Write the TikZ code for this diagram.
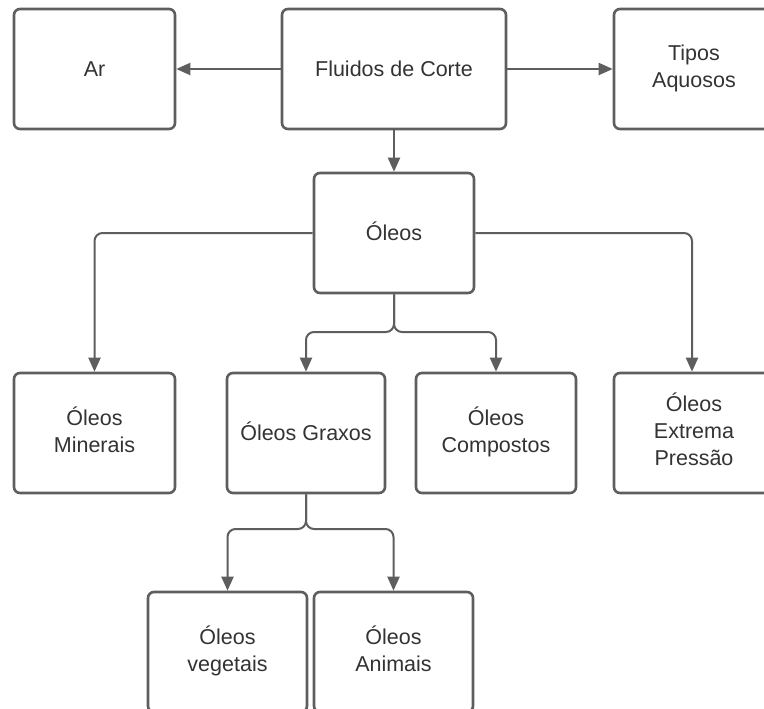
\documentclass[tikz,border=0pt]{standalone}
\usepackage{fontspec}
\setmainfont{Liberation Sans}
\usetikzlibrary{arrows.meta}
\definecolor{boxline}{HTML}{5E5E5E}
\definecolor{txt}{HTML}{333333}
\newcommand\lnstrut{\rule[-6pt]{0pt}{27pt}}
\newcommand\lststrut{\rule[-10pt]{0pt}{10pt}}
\tikzset{
  box/.style={draw=boxline, line width=2.6pt, rounded corners=6pt, fill=white,
    text=txt, align=center, inner sep=0pt,
    font=\fontsize{21.5}{27}\selectfont},
  conn/.style={draw=boxline, line width=2pt, rounded corners=8pt,
    -{Triangle[length=14pt,width=12pt]}},
}
\begin{document}
\begin{tikzpicture}[x=1pt,y=-1pt]
\useasboundingbox (0,0) rectangle (764,709);
\clip (0,0) rectangle (764,709);
\fill[white] (0,0) rectangle (764,709);
\node[box, minimum width=161pt, minimum height=120pt] (ar) at (94.5,69) {\lnstrut Ar};
\node[box, minimum width=224pt, minimum height=120pt] (fluid) at (394,69) {\lnstrut Fluidos de Corte};
\node[box, minimum width=160pt, minimum height=120pt] (tipos) at (694,69) {\lnstrut Tipos\\Aquosos\lststrut};
\node[box, minimum width=160pt, minimum height=120pt] (oleos) at (394,233) {\lnstrut Óleos};
\node[box, minimum width=161pt, minimum height=120pt] (miner) at (94.5,433) {\lnstrut Óleos\\Minerais\lststrut};
\node[box, minimum width=158pt, minimum height=120pt] (graxos) at (306,433) {\lnstrut Óleos Graxos};
\node[box, minimum width=160pt, minimum height=120pt] (comp) at (496,433) {\lnstrut Óleos\\Compostos\lststrut};
\node[box, minimum width=160pt, minimum height=120pt] (extr) at (694,433) {\lnstrut Óleos\\Extrema\\Pressão\lststrut};
\node[box, minimum width=159pt, minimum height=120pt] (veg) at (227.5,652) {\lnstrut Óleos\\vegetais\lststrut};
\node[box, minimum width=159pt, minimum height=120pt] (anim) at (393.5,652) {\lnstrut Óleos\\Animais\lststrut};
\coordinate (j1) at (394,332);
\coordinate (j2) at (306,529);
\draw[conn] (fluid.west) -- (ar.east);
\draw[conn] (fluid.east) -- (tipos.west);
\draw[conn] (fluid.south) -- (oleos.north);
\draw[conn] (oleos.west) -| (miner.north);
\draw[conn] (oleos.east) -| ([xshift=-2pt]extr.north);
\draw[conn] (oleos.south) -- (j1) -| (graxos.north);
\draw[conn] (oleos.south) -- (j1) -| (comp.north);
\draw[conn] (graxos.south) -- (j2) -| (veg.north);
\draw[conn] (graxos.south) -- (j2) -| (anim.north);
\end{tikzpicture}
\end{document}
